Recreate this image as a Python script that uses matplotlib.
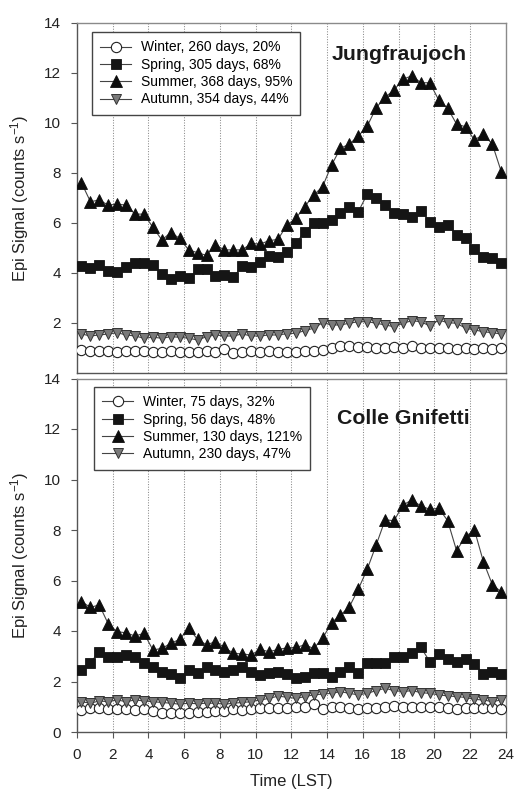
import numpy as np
import matplotlib
matplotlib.use("Agg")
import matplotlib.pyplot as plt

plt.rcParams["font.family"] = ["Liberation Sans", "DejaVu Sans"]
plt.rcParams["mathtext.fontset"] = "custom"
plt.rcParams["mathtext.rm"] = "Liberation Sans"
plt.rcParams["mathtext.it"] = "Liberation Sans:italic"

# Half-hour bin centres (local solar time)
hours = np.arange(0.25, 24.0, 0.5)

# Jungfraujoch mean diurnal cycles
jf_winter = [0.90, 0.88, 0.88, 0.86, 0.83, 0.88, 0.86, 0.86, 0.85, 0.85, 0.86, 0.85,
             0.84, 0.85, 0.86, 0.85, 0.95, 0.79, 0.85, 0.86, 0.85, 0.86, 0.85, 0.83,
             0.85, 0.88, 0.88, 0.91, 0.98, 1.08, 1.06, 1.05, 1.02, 1.00, 1.00, 1.04,
             0.98, 1.08, 0.98, 1.00, 0.98, 0.98, 0.96, 0.98, 0.96, 0.98, 0.97, 0.98]
jf_spring = [4.28, 4.18, 4.32, 4.08, 4.05, 4.25, 4.38, 4.41, 4.32, 3.96, 3.74, 3.88,
             3.78, 4.14, 4.14, 3.88, 3.92, 3.82, 4.28, 4.22, 4.45, 4.68, 4.62, 4.85,
             5.18, 5.65, 5.98, 5.98, 6.11, 6.38, 6.65, 6.45, 7.15, 6.98, 6.71, 6.38,
             6.35, 6.25, 6.49, 6.05, 5.85, 5.92, 5.52, 5.38, 4.94, 4.65, 4.58, 4.38]
jf_summer = [7.60, 6.85, 6.91, 6.71, 6.75, 6.71, 6.35, 6.35, 5.82, 5.32, 5.61, 5.38,
             4.92, 4.81, 4.70, 5.12, 4.92, 4.92, 4.92, 5.18, 5.15, 5.29, 5.34, 5.91,
             6.18, 6.65, 7.11, 7.45, 8.31, 8.98, 9.15, 9.47, 9.87, 10.60, 11.02, 11.31,
             11.74, 11.88, 11.60, 11.60, 10.91, 10.58, 9.95, 9.84, 9.31, 9.54, 9.15, 8.05]
jf_autumn = [1.56, 1.48, 1.52, 1.56, 1.61, 1.52, 1.48, 1.39, 1.43, 1.39, 1.45, 1.43,
             1.39, 1.32, 1.45, 1.52, 1.48, 1.48, 1.56, 1.48, 1.48, 1.52, 1.52, 1.57,
             1.59, 1.69, 1.79, 2.01, 1.92, 1.92, 1.99, 2.05, 2.05, 1.99, 1.92, 1.85,
             1.99, 2.09, 2.05, 1.88, 2.12, 2.01, 1.99, 1.79, 1.72, 1.65, 1.61, 1.56]

# Colle Gnifetti mean diurnal cycles
cg_winter = [0.87, 0.94, 0.94, 0.90, 0.90, 0.90, 0.87, 0.90, 0.84, 0.74, 0.77, 0.77,
             0.74, 0.80, 0.80, 0.84, 0.84, 0.90, 0.87, 0.90, 0.94, 0.97, 0.94, 0.97,
             0.98, 1.00, 1.11, 0.90, 1.00, 1.00, 0.94, 0.90, 0.94, 0.94, 1.00, 1.03,
             1.00, 1.00, 0.98, 1.00, 0.98, 0.94, 0.90, 0.94, 0.94, 0.94, 0.94, 0.90]
cg_spring = [2.46, 2.75, 3.18, 2.96, 2.98, 3.05, 2.96, 2.72, 2.56, 2.39, 2.30, 2.13,
             2.46, 2.35, 2.56, 2.46, 2.39, 2.46, 2.56, 2.39, 2.26, 2.35, 2.37, 2.29,
             2.13, 2.17, 2.32, 2.32, 2.19, 2.39, 2.56, 2.32, 2.72, 2.72, 2.72, 2.96,
             2.98, 3.14, 3.35, 2.79, 3.09, 2.88, 2.79, 2.88, 2.69, 2.30, 2.39, 2.30]
cg_summer = [5.16, 4.94, 5.03, 4.28, 3.97, 3.93, 3.80, 3.91, 3.25, 3.31, 3.51, 3.67,
             4.11, 3.67, 3.45, 3.58, 3.35, 3.12, 3.09, 3.05, 3.27, 3.18, 3.27, 3.33,
             3.35, 3.45, 3.31, 3.71, 4.33, 4.63, 4.96, 5.66, 6.45, 7.41, 8.40, 8.37,
             8.99, 9.19, 8.95, 8.82, 8.86, 8.37, 7.18, 7.74, 8.00, 6.75, 5.84, 5.55]
cg_autumn = [1.20, 1.14, 1.23, 1.20, 1.27, 1.20, 1.27, 1.23, 1.20, 1.17, 1.14, 1.10,
             1.14, 1.12, 1.14, 1.14, 1.10, 1.14, 1.17, 1.20, 1.27, 1.33, 1.42, 1.38,
             1.33, 1.40, 1.47, 1.50, 1.53, 1.60, 1.53, 1.47, 1.53, 1.64, 1.73, 1.64,
             1.60, 1.64, 1.56, 1.53, 1.47, 1.43, 1.40, 1.37, 1.29, 1.27, 1.20, 1.27]

jf_labels = ["Winter, 260 days, 20%", "Spring, 305 days, 68%",
             "Summer, 368 days, 95%", "Autumn, 354 days, 44%"]
cg_labels = ["Winter, 75 days, 32%", "Spring, 56 days, 48%",
             "Summer, 130 days, 121%", "Autumn, 230 days, 47%"]

x_ticks = list(range(0, 25, 2))
y_ticks = list(range(0, 15, 2))

styles = [
    dict(marker="o", mfc="white", mec="#222222", ms=7.4, mew=0.8),
    dict(marker="s", mfc="#151515", mec="#151515", ms=6.6, mew=0.6),
    dict(marker="^", mfc="#0d0d0d", mec="#0d0d0d", ms=8.0, mew=0.6),
    dict(marker="v", mfc="#7a7a7a", mec="#333333", ms=7.8, mew=0.7),
]

W, H = 515, 791
fig = plt.figure(figsize=(W / 100, H / 100), dpi=100)

def px_axes(left, top, right, bottom):
    return fig.add_axes([left / W, 1 - bottom / H, (right - left) / W, (bottom - top) / H])

ax_top = px_axes(77, 22.7, 505.7, 373)
ax_bot = px_axes(77, 378.5, 505.7, 732)

panels = [
    (ax_top, [jf_winter, jf_spring, jf_summer, jf_autumn], jf_labels, "Jungfraujoch",
     (0.035, 0.973), (0.751, 0.8935)),
    (ax_bot, [cg_winter, cg_spring, cg_summer, cg_autumn], cg_labels, "Colle Gnifetti",
     (0.040, 0.976), (0.761, 0.870)),
]

for ax, series, labels, site, leg_anchor, title_pos in panels:
    for gx in x_ticks[1:-1]:
        ax.axvline(gx, color="#8a8a8a", lw=0.75, ls=(0, (1, 1.5)), zorder=0)
    for vals, lab, st in zip(series, labels, styles):
        ax.plot(hours, vals, color="#444444", lw=0.8, label=lab, zorder=3, **st)
    ax.set_xlim(0, 24)
    ax.set_ylim(0, 14)
    ax.set_yticks(y_ticks)
    ax.set_xticks(x_ticks)
    for side in ("top", "right"):
        ax.spines[side].set_color("#8a8a8a")
    for side in ("left", "bottom"):
        ax.spines[side].set_color("#555555")
    for sp in ax.spines.values():
        sp.set_linewidth(1.0)
    ax.tick_params(axis="both", direction="out", length=4.5, width=0.8,
                   color="#555555", labelsize=11, labelcolor="#222222", pad=7)
    ax.set_ylabel(r"Epi Signal (counts s$^{-1}$)", fontsize=12, color="#222222")
    ax.yaxis.set_label_coords(-0.108, 0.5)
    leg = ax.legend(loc="upper left", bbox_to_anchor=leg_anchor, fontsize=10,
                    frameon=True, fancybox=False, edgecolor="#444444",
                    handlelength=2.2, handletextpad=0.7, labelspacing=0.24,
                    borderpad=0.6, borderaxespad=0.0, framealpha=1)
    leg.get_frame().set_linewidth(1.0)
    ax.text(title_pos[0], title_pos[1], site, transform=ax.transAxes, ha="center",
            va="baseline", fontsize=15.3, fontweight="bold", color="#1a1a1a")

ax_top.tick_params(axis="x", bottom=False, labelbottom=False)
ax_top.set_yticks(y_ticks[1:])
ax_bot.set_xlabel("Time (LST)", fontsize=12, color="#222222", labelpad=9)

fig.savefig("out.png", dpi=100)
